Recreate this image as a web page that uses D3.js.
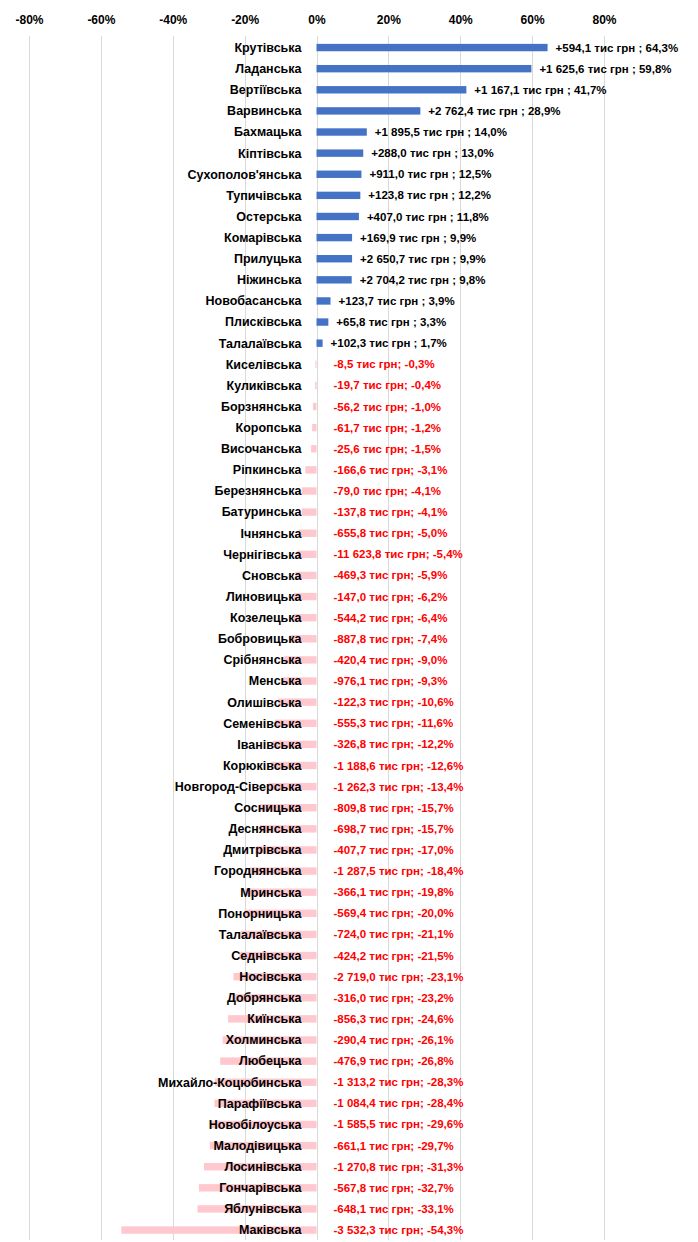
<!DOCTYPE html>
<html>
<head>
<meta charset="utf-8">
<script src="https://cdn.jsdelivr.net/npm/d3@7"></script>
<style>
  body { margin: 0; background: #fff; }
  svg { display: block; font-family: "Liberation Sans", Arial, sans-serif; }
</style>
</head>
<body>
<svg width="698" height="1242" viewBox="0 0 698 1242"></svg>
<script>
// Громади, зміна надходжень (тис грн) і зміна у відсотках
const names = ["Крутівська", "Ладанська", "Вертіївська", "Варвинська", "Бахмацька", "Кіптівська",
    "Сухополов'янська", "Тупичівська", "Остерська", "Комарівська", "Прилуцька", "Ніжинська",
    "Новобасанська", "Плисківська", "Талалаївська", "Киселівська", "Куликівська", "Борзнянська",
    "Коропська", "Височанська", "Ріпкинська", "Березнянська", "Батуринська", "Ічнянська",
    "Чернігівська", "Сновська", "Линовицька", "Козелецька", "Бобровицька", "Срібнянська",
    "Менська", "Олишівська", "Семенівська", "Іванівська", "Корюківська", "Новгород-Сіверська",
    "Сосницька", "Деснянська", "Дмитрівська", "Городнянська", "Мринська", "Понорницька",
    "Талалаївська", "Седнівська", "Носівська", "Добрянська", "Киїнська", "Холминська",
    "Любецька", "Михайло-Коцюбинська", "Парафіївська", "Новобілоуська", "Малодівицька",
    "Лосинівська", "Гончарівська", "Яблунівська", "Маківська"];

const amounts = [594.1, 1625.6, 1167.1, 2762.4, 1895.5, 288.0, 911.0, 123.8, 407.0, 169.9,
    2650.7, 2704.2, 123.7, 65.8, 102.3, -8.5, -19.7, -56.2, -61.7, -25.6, -166.6, -79.0,
    -137.8, -655.8, -11623.8, -469.3, -147.0, -544.2, -887.8, -420.4, -976.1, -122.3,
    -555.3, -326.8, -1188.6, -1262.3, -809.8, -698.7, -407.7, -1287.5, -366.1, -569.4,
    -724.0, -424.2, -2719.0, -316.0, -856.3, -290.4, -476.9, -1313.2, -1084.4, -1585.5,
    -661.1, -1270.8, -567.8, -648.1, -3532.3];

const pct = [64.3, 59.8, 41.7, 28.9, 14.0, 13.0, 12.5, 12.2, 11.8, 9.9, 9.9, 9.8, 3.9, 3.3,
    1.7, -0.3, -0.4, -1.0, -1.2, -1.5, -3.1, -4.1, -4.1, -5.0, -5.4, -5.9, -6.2, -6.4, -7.4,
    -9.0, -9.3, -10.6, -11.6, -12.2, -12.6, -13.4, -15.7, -15.7, -17.0, -18.4, -19.8, -20.0,
    -21.1, -21.5, -23.1, -23.2, -24.6, -26.1, -26.8, -28.3, -28.4, -29.6, -29.7, -31.3,
    -32.7, -33.1, -54.3];

const ticks = [-80, -60, -40, -20, 0, 20, 40, 60, 80];

const svg = d3.select("svg");

const locale = d3.formatLocale({ decimal: ",", thousands: "\u00a0", grouping: [3], currency: ["", ""], minus: "-" });
const fmt = locale.format(",.1f");

const x = d3.scaleLinear().domain([-80, 80]).range([29, 604]);
const y = d3.scaleBand()
    .domain(d3.range(names.length))
    .range([37, 1240.6])
    .paddingInner(0.65)
    .paddingOuter(0.325);

// Gridlines
svg.append("g")
    .selectAll("line")
    .data(ticks)
    .enter()
    .append("line")
    .attr("x1", d => Math.round(x(d)) + 0.5)
    .attr("x2", d => Math.round(x(d)) + 0.5)
    .attr("y1", 36)
    .attr("y2", 1240)
    .attr("stroke", "#d9d9d9")
    .attr("stroke-width", 1);

// Top axis
const axis = svg.append("g")
    .attr("transform", "translate(0, 24)")
    .call(d3.axisTop(x).tickValues(ticks).tickSize(0).tickPadding(0).tickFormat(d => d + "%"));
axis.select(".domain").remove();
axis.selectAll("text")
    .attr("font-family", "Liberation Sans, Arial, sans-serif")
    .attr("font-size", 12)
    .attr("font-weight", "bold")
    .attr("fill", "#000");

const rows = names.map((name, i) => ({ i, name, amount: amounts[i], pct: pct[i] }));

// Bars
svg.append("g")
    .selectAll("rect")
    .data(rows)
    .enter()
    .append("rect")
    .attr("x", d => x(Math.min(0, d.pct)))
    .attr("y", d => y(d.i))
    .attr("width", d => Math.abs(x(d.pct) - x(0)))
    .attr("height", y.bandwidth())
    .attr("fill", d => d.pct >= 0 ? "#4472c4" : "#ffc7ce");

// Category labels
svg.append("g")
    .selectAll("text")
    .data(rows)
    .enter()
    .append("text")
    .attr("x", x(0) - 15)
    .attr("y", d => y(d.i) + y.bandwidth() / 2)
    .attr("dy", "0.35em")
    .attr("text-anchor", "end")
    .attr("font-size", 12.5)
    .attr("font-weight", "bold")
    .attr("fill", "#000")
    .text(d => d.name);

// Value labels
svg.append("g")
    .selectAll("text")
    .data(rows)
    .enter()
    .append("text")
    .attr("x", d => d.pct >= 0 ? x(d.pct) + 8 : x(0) + 17)
    .attr("y", d => y(d.i) + y.bandwidth() / 2)
    .attr("dy", "0.35em")
    .attr("font-size", 11.5)
    .attr("font-weight", "bold")
    .attr("fill", d => d.pct >= 0 ? "#000" : "#ff0000")
    .text(d => d.pct >= 0
        ? `+${fmt(d.amount)} тис грн ; ${fmt(d.pct)}%`
        : `${fmt(d.amount)} тис грн; ${fmt(d.pct)}%`);
</script>
</body>
</html>
